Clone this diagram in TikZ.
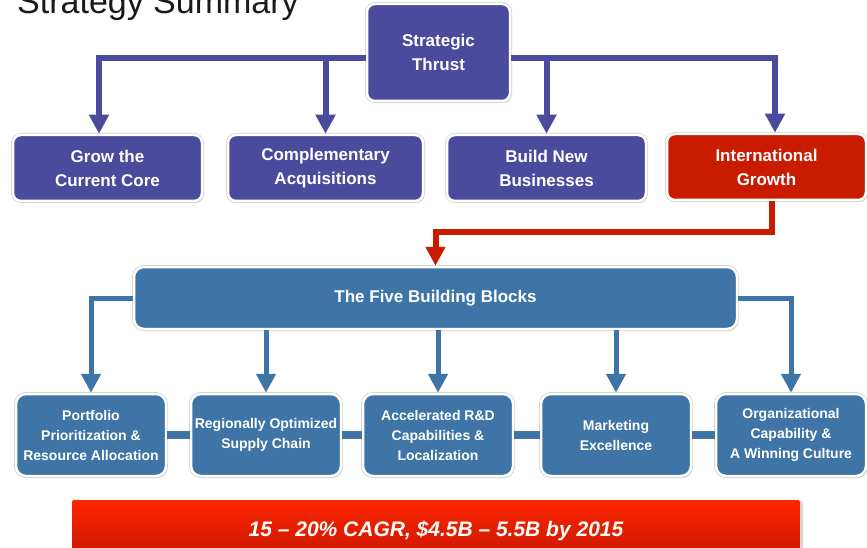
\documentclass[tikz,border=0pt]{standalone}
\usepackage{fontspec}
\setsansfont{Liberation Sans}
\usepackage[dvipsnames,rgb]{xcolor}
\usepackage{tikz}
\usetikzlibrary{arrows.meta, shadows, positioning}
\tikzset{every picture/.style={/utils/exec={\sffamily}}}

\definecolor{thrustpurple}{RGB}{75,75,157}
\definecolor{blockblue}{RGB}{63,117,166}
\definecolor{growthred}{RGB}{200,27,0}
\definecolor{targettop}{RGB}{255,38,0}
\definecolor{targetbottom}{RGB}{196,22,0}

\tikzset{
  box/.style={rounded corners=8pt, draw=white, line width=2.5pt, text=white, align=center,
    font=\bfseries\fontsize{17}{24}\selectfont,
    drop shadow={opacity=0.35, shadow xshift=1.5pt, shadow yshift=-2pt},
    preaction={draw=black!18, line width=4pt}},
  blockbox/.style={box, fill=blockblue, rounded corners=10pt, minimum width=150pt, minimum height=82pt,
    inner xsep=1pt, font=\bfseries\fontsize{14}{20}\selectfont},
  purpleline/.style={draw=thrustpurple, line width=6pt},
  redline/.style={draw=growthred, line width=6pt},
  blueline/.style={draw=blockblue, line width=5pt},
  link/.style={draw=blockblue, line width=8pt},
}

\begin{document}
\begin{tikzpicture}[x=1pt, y=-1pt, >={Triangle[width=19pt,length=19pt]}]
        \useasboundingbox (0,0) rectangle (867,548);

        % Title
        \node[anchor=base west, inner sep=0pt, text=black!90, font=\fontsize{34}{40}\selectfont] (title) at (17,14) {Strategy Summary};

        % Nodes
        \node[box, fill=thrustpurple, minimum width=143pt, minimum height=97pt] (T) at (438.5,52.5) {Strategic\\Thrust};
        \node[box, fill=thrustpurple, minimum width=189pt, minimum height=66pt] (G) at (107.5,168) {Grow the\\Current Core};
        \node[box, fill=thrustpurple, minimum width=195pt, minimum height=66pt] (C) at (325.5,168) {Complementary\\Acquisitions};
        \node[box, fill=thrustpurple, minimum width=199pt, minimum height=66pt] (B) at (546.5,168) {Build New\\Businesses};
        \node[box, fill=growthred, minimum width=199pt, minimum height=66pt] (I) at (766.5,167) {International\\Growth};

        \node[box, fill=blockblue, rounded corners=10pt, minimum width=603pt, minimum height=62pt] (F) at (435.5,298) {The Five Building Blocks};

        \node[blockbox] (P1) at (91,435) {Portfolio\\Prioritization \&\\Resource Allocation};
        \node[blockbox] (P2) at (266,435) {Regionally Optimized\\Supply Chain};
        \node[blockbox] (P3) at (438,435) {Accelerated R\&D\\Capabilities \&\\Localization};
        \node[blockbox] (P4) at (616,435) {Marketing\\Excellence};
        \node[blockbox] (P5) at (791,435) {Organizational\\Capability \&\\A Winning Culture};

        \node[rounded corners=2pt, top color=targettop, bottom color=targetbottom, text=white,
              minimum width=728pt, minimum height=62pt,
              drop shadow={opacity=0.3, shadow xshift=3pt, shadow yshift=-1pt},
              font=\bfseries\itshape\fontsize{21}{24}\selectfont] (K) at (436,531) {15 -- 20\% CAGR, \$4.5B -- 5.5B by 2015};

        % Directed edges
        \draw[purpleline, ->] ([yshift=-5.5pt]T.west) -| ([xshift=-8.5pt]G.north);
        \draw[purpleline, ->] ([yshift=-5.5pt]T.west) -| (C.north);
        \draw[purpleline, ->] ([yshift=-5.5pt]T.east) -| (B.north);
        \draw[purpleline, ->] ([yshift=-5.5pt]T.east) -| ([xshift=8.5pt]I.north);

        \draw[redline, ->] ([xshift=5.5pt]I.south) -- ++(0,31) -| (F.north);

        \draw[blueline, ->] (F.west) -| (P1.north);
        \draw[blueline, ->] (F.south -| P2.north) -- (P2.north);
        \draw[blueline, ->] (F.south -| P3.north) -- (P3.north);
        \draw[blueline, ->] (F.south -| P4.north) -- (P4.north);
        \draw[blueline, ->] (F.east) -| (P5.north);

        % Links between the building blocks
        \draw[link] (P1.east) -- (P2.west);
        \draw[link] (P2.east) -- (P3.west);
        \draw[link] (P3.east) -- (P4.west);
        \draw[link] (P4.east) -- (P5.west);
    \end{tikzpicture}
\end{document}
